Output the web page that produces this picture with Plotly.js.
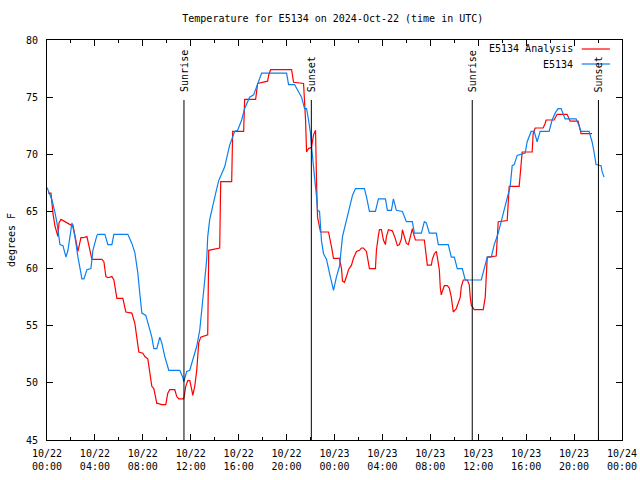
<!DOCTYPE html>
<html>
<head>
<meta charset="utf-8">
<script src="https://cdn.plot.ly/plotly-3.0.1.min.js"></script>
<style>html,body{margin:0;padding:0;background:#fff;}#chart{width:640px;height:480px;}</style>
</head>
<body>
<div id="chart"></div>
<script>
// ---- Data ----
const obsTimes = [
"2024-10-22 00:00","2024-10-22 00:25","2024-10-22 00:40","2024-10-22 00:50","2024-10-22 01:05","2024-10-22 01:20","2024-10-22 01:35","2024-10-22 01:45",
"2024-10-22 02:05","2024-10-22 02:20","2024-10-22 02:35","2024-10-22 02:45","2024-10-22 02:55","2024-10-22 03:05","2024-10-22 03:20","2024-10-22 03:40",
"2024-10-22 03:50","2024-10-22 04:10","2024-10-22 04:15","2024-10-22 04:50","2024-10-22 05:00","2024-10-22 05:05","2024-10-22 05:25","2024-10-22 05:35",
"2024-10-22 06:45","2024-10-22 07:05","2024-10-22 07:20","2024-10-22 07:35","2024-10-22 07:45","2024-10-22 07:55","2024-10-22 08:15","2024-10-22 08:25",
"2024-10-22 08:45","2024-10-22 08:55","2024-10-22 09:10","2024-10-22 09:25","2024-10-22 09:35","2024-10-22 09:50","2024-10-22 10:10","2024-10-22 11:05",
"2024-10-22 11:20","2024-10-22 11:25","2024-10-22 11:40","2024-10-22 11:55","2024-10-22 12:10","2024-10-22 12:30","2024-10-22 12:45","2024-10-22 13:00",
"2024-10-22 13:10","2024-10-22 13:20","2024-10-22 13:25","2024-10-22 13:35","2024-10-22 13:45","2024-10-22 13:50","2024-10-22 14:05","2024-10-22 14:20",
"2024-10-22 14:50","2024-10-22 15:15","2024-10-22 15:40","2024-10-22 15:55","2024-10-22 16:15","2024-10-22 16:30","2024-10-22 16:55","2024-10-22 17:15",
"2024-10-22 17:30","2024-10-22 17:45","2024-10-22 17:55","2024-10-22 20:00","2024-10-22 20:10","2024-10-22 20:40","2024-10-22 20:55","2024-10-22 21:15",
"2024-10-22 21:30","2024-10-22 21:40","2024-10-22 21:50","2024-10-22 22:00","2024-10-22 22:05","2024-10-22 22:15","2024-10-22 22:20","2024-10-22 22:30",
"2024-10-22 22:35","2024-10-22 22:45","2024-10-22 22:50","2024-10-22 22:55","2024-10-22 23:05","2024-10-22 23:20","2024-10-22 23:35","2024-10-22 23:55",
"2024-10-23 00:10","2024-10-23 00:25","2024-10-23 00:40","2024-10-23 01:00","2024-10-23 01:15","2024-10-23 01:30","2024-10-23 01:45","2024-10-23 02:30",
"2024-10-23 02:40","2024-10-23 02:55","2024-10-23 03:25","2024-10-23 03:40","2024-10-23 04:15","2024-10-23 04:25","2024-10-23 04:45","2024-10-23 04:55",
"2024-10-23 05:10","2024-10-23 05:40","2024-10-23 06:00","2024-10-23 06:30","2024-10-23 06:40","2024-10-23 07:15","2024-10-23 07:30","2024-10-23 07:40",
"2024-10-23 07:55","2024-10-23 08:30","2024-10-23 08:40","2024-10-23 09:30","2024-10-23 09:45","2024-10-23 10:00","2024-10-23 10:15","2024-10-23 10:40",
"2024-10-23 10:55","2024-10-23 12:15","2024-10-23 12:30","2024-10-23 12:45","2024-10-23 13:05","2024-10-23 13:20","2024-10-23 13:40","2024-10-23 13:55",
"2024-10-23 14:10","2024-10-23 14:25","2024-10-23 14:40","2024-10-23 14:50","2024-10-23 15:00","2024-10-23 15:15","2024-10-23 15:55","2024-10-23 16:05",
"2024-10-23 16:25","2024-10-23 16:40","2024-10-23 16:55","2024-10-23 17:10","2024-10-23 17:55","2024-10-23 18:10","2024-10-23 18:25","2024-10-23 18:40",
"2024-10-23 18:55","2024-10-23 19:15","2024-10-23 20:10","2024-10-23 20:25","2024-10-23 20:35","2024-10-23 21:15","2024-10-23 21:30","2024-10-23 21:40",
"2024-10-23 21:50","2024-10-23 22:15","2024-10-23 22:20","2024-10-23 22:30"
];
const obsTemps = [
67.1,66.0,64.9,64.0,62.1,62.0,61.0,61.6,
64.0,62.8,61.0,59.9,59.1,59.1,59.9,60.0,
61.6,62.9,63.0,63.0,62.5,62.1,62.1,63.0,
63.0,62.2,61.4,59.6,57.8,56.1,55.9,55.2,
54.0,53.0,53.0,54.0,53.5,52.3,51.1,51.1,
50.5,50.1,51.0,51.1,52.0,53.2,54.6,57.0,
59.0,60.8,62.8,64.3,65.1,65.7,66.6,67.7,
68.9,70.8,72.0,72.1,73.0,74.0,75.0,75.2,
75.9,76.5,77.1,77.1,76.1,76.1,75.6,75.0,
74.0,74.0,73.0,71.8,70.7,69.2,68.0,66.3,
65.1,65.0,63.4,62.4,61.3,60.8,59.6,58.1,
59.3,60.2,62.8,64.3,65.4,66.4,67.0,67.0,
66.3,65.0,65.0,66.1,66.1,65.1,65.1,66.1,
65.1,65.0,64.1,64.1,63.1,63.1,64.1,64.0,
63.1,63.1,62.1,62.1,61.0,61.0,60.0,60.0,
59.0,59.0,60.0,61.0,61.0,62.1,63.1,64.1,
65.1,66.1,67.2,69.0,69.1,69.9,70.1,71.1,
72.0,72.0,71.1,72.0,72.0,73.0,73.6,74.0,
74.0,73.1,73.1,72.5,72.0,72.0,71.1,70.2,
69.1,69.0,68.5,68.0
];

const anaTimes = [
"2024-10-22 00:05","2024-10-22 00:20","2024-10-22 00:30","2024-10-22 00:40","2024-10-22 00:55","2024-10-22 01:00","2024-10-22 01:10","2024-10-22 01:20",
"2024-10-22 01:40","2024-10-22 02:00","2024-10-22 02:10","2024-10-22 02:30","2024-10-22 02:35","2024-10-22 02:50","2024-10-22 03:00","2024-10-22 03:20",
"2024-10-22 03:30","2024-10-22 03:45","2024-10-22 04:35","2024-10-22 04:45","2024-10-22 04:55","2024-10-22 05:05","2024-10-22 05:25","2024-10-22 05:35",
"2024-10-22 05:50","2024-10-22 06:20","2024-10-22 06:35","2024-10-22 07:05","2024-10-22 07:20","2024-10-22 07:30","2024-10-22 07:40","2024-10-22 08:00",
"2024-10-22 08:10","2024-10-22 08:25","2024-10-22 08:35","2024-10-22 08:45","2024-10-22 08:55","2024-10-22 09:10","2024-10-22 09:15","2024-10-22 09:35",
"2024-10-22 09:55","2024-10-22 10:05","2024-10-22 10:15","2024-10-22 10:40","2024-10-22 10:50","2024-10-22 11:00","2024-10-22 11:25","2024-10-22 11:35",
"2024-10-22 11:45","2024-10-22 11:55","2024-10-22 12:05","2024-10-22 12:10","2024-10-22 12:20","2024-10-22 12:30","2024-10-22 12:40","2024-10-22 12:50",
"2024-10-22 13:25","2024-10-22 13:30","2024-10-22 14:25","2024-10-22 14:30","2024-10-22 15:25","2024-10-22 15:30","2024-10-22 16:25","2024-10-22 16:30",
"2024-10-22 17:25","2024-10-22 17:35","2024-10-22 18:25","2024-10-22 18:30","2024-10-22 18:40","2024-10-22 20:25","2024-10-22 20:35","2024-10-22 21:25",
"2024-10-22 21:35","2024-10-22 21:40","2024-10-22 21:50","2024-10-22 22:05","2024-10-22 22:15","2024-10-22 22:25","2024-10-22 22:30","2024-10-22 22:35",
"2024-10-22 22:50","2024-10-22 23:30","2024-10-22 23:45","2024-10-22 23:55",
"2024-10-23 00:25","2024-10-23 00:35","2024-10-23 00:40","2024-10-23 00:50","2024-10-23 01:00","2024-10-23 01:10","2024-10-23 01:25","2024-10-23 01:35",
"2024-10-23 01:50","2024-10-23 02:05","2024-10-23 02:15","2024-10-23 02:25","2024-10-23 02:40","2024-10-23 02:45","2024-10-23 02:55","2024-10-23 03:25",
"2024-10-23 03:30","2024-10-23 03:40","2024-10-23 03:45","2024-10-23 03:55","2024-10-23 04:05","2024-10-23 04:15","2024-10-23 04:20","2024-10-23 04:30",
"2024-10-23 04:50","2024-10-23 05:05","2024-10-23 05:15","2024-10-23 05:25","2024-10-23 05:35","2024-10-23 05:40","2024-10-23 05:50","2024-10-23 06:00",
"2024-10-23 06:10","2024-10-23 06:25","2024-10-23 06:30","2024-10-23 06:35","2024-10-23 06:45","2024-10-23 07:30","2024-10-23 07:40","2024-10-23 07:45",
"2024-10-23 08:05","2024-10-23 08:10","2024-10-23 08:20","2024-10-23 08:30","2024-10-23 08:35","2024-10-23 08:45","2024-10-23 08:50","2024-10-23 08:55",
"2024-10-23 09:00","2024-10-23 09:10","2024-10-23 09:25","2024-10-23 09:35","2024-10-23 09:45","2024-10-23 09:50","2024-10-23 09:55","2024-10-23 10:10",
"2024-10-23 10:20","2024-10-23 10:30","2024-10-23 10:35","2024-10-23 10:45","2024-10-23 11:05","2024-10-23 11:15","2024-10-23 11:20","2024-10-23 11:25",
"2024-10-23 11:40","2024-10-23 12:25","2024-10-23 12:35","2024-10-23 12:40","2024-10-23 12:45","2024-10-23 13:30","2024-10-23 13:35","2024-10-23 13:40",
"2024-10-23 14:25","2024-10-23 14:30","2024-10-23 14:35","2024-10-23 15:25","2024-10-23 15:35","2024-10-23 15:40","2024-10-23 16:30","2024-10-23 16:35",
"2024-10-23 16:45","2024-10-23 17:25","2024-10-23 17:35","2024-10-23 17:40","2024-10-23 18:20","2024-10-23 18:35","2024-10-23 19:25","2024-10-23 19:40",
"2024-10-23 20:20","2024-10-23 20:30","2024-10-23 20:35","2024-10-23 21:30"
];
const anaTemps = [
66.6,66.6,64.8,63.7,62.8,64.0,64.3,64.2,
64.0,63.8,63.8,61.9,61.5,62.7,62.7,62.8,
61.9,60.8,60.8,60.6,59.3,59.2,59.3,59.0,
57.4,57.4,56.2,56.1,55.2,53.9,52.7,52.6,
52.3,52.1,50.8,49.7,49.5,48.2,48.2,48.1,
48.1,49.1,49.4,49.4,48.8,48.6,48.6,49.7,
50.2,50.2,49.4,48.9,49.7,51.1,53.5,54.0,
54.2,61.6,61.8,67.6,67.6,72.0,72.0,74.8,
74.8,76.2,76.4,76.9,77.4,77.4,76.3,76.2,
73.0,70.2,70.5,70.6,71.7,72.1,67.6,64.5,
63.2,63.2,61.9,60.9,
60.9,60.0,58.9,58.8,59.3,59.9,60.3,60.9,
61.5,61.6,61.8,61.8,61.5,61.0,60.0,60.0,
61.6,62.9,63.4,63.4,62.5,62.1,62.8,63.4,
63.3,62.6,62.0,62.1,62.6,63.4,62.8,62.2,
62.1,63.1,63.5,63.1,62.5,62.5,60.8,60.3,
60.3,60.8,61.3,61.5,61.0,59.9,58.3,57.7,
58.0,58.5,58.5,58.3,57.5,56.7,56.2,56.5,
57.0,57.5,58.4,59.0,59.0,58.6,57.5,56.8,
56.4,56.4,57.5,59.9,61.0,61.1,62.8,64.1,
64.2,66.0,67.2,67.2,69.2,70.2,70.2,71.8,
72.3,72.3,72.7,73.0,73.0,73.5,73.5,72.9,
72.9,72.3,71.8,71.8
];

const sunLabels = ["Sunrise","Sunset","Sunrise","Sunset"];
const sunTimes = ["2024-10-22 11:26","2024-10-22 22:04","2024-10-23 11:30","2024-10-23 22:02"];

const xTickVals = ["2024-10-22 00:00","2024-10-22 04:00","2024-10-22 08:00","2024-10-22 12:00","2024-10-22 16:00","2024-10-22 20:00","2024-10-23 00:00",
                   "2024-10-23 04:00","2024-10-23 08:00","2024-10-23 12:00","2024-10-23 16:00","2024-10-23 20:00","2024-10-24 00:00"];
const xTickText = ["10/22<br>00:00","10/22<br>04:00","10/22<br>08:00","10/22<br>12:00","10/22<br>16:00","10/22<br>20:00","10/23<br>00:00",
                   "10/23<br>04:00","10/23<br>08:00","10/23<br>12:00","10/23<br>16:00","10/23<br>20:00","10/24<br>00:00"];
const yTickVals = [45,50,55,60,65,70,75,80];

const seriesNames = ["E5134 Analysis","E5134"];
const seriesColors = ["#ff0000","#0a80f0"];

// ---- Chart ----
const FONT = "DejaVu Sans Mono, monospace";

const traces = [
  {x: anaTimes, y: anaTemps, type: "scatter", mode: "lines", name: seriesNames[0],
   line: {color: seriesColors[0], width: 1.2}, showlegend: false},
  {x: obsTimes, y: obsTemps, type: "scatter", mode: "lines", name: seriesNames[1],
   line: {color: seriesColors[1], width: 1.2}, showlegend: false}
];

const shapes = [];
const annotations = [];
sunTimes.forEach((t, i) => {
  shapes.push({type: "line", xref: "x", yref: "paper", x0: t, x1: t, y0: 0, y1: 0.85,
               line: {color: "#000", width: 1}});
  annotations.push({xref: "x", yref: "paper", x: t, y: 0.865, text: sunLabels[i],
                    textangle: -90, showarrow: false, xanchor: "center", yanchor: "bottom",
                    font: {family: FONT, size: 10, color: "#000"}});
});

// manual gnuplot-style key (text right-aligned, sample line to the right)
const keyY = [0.9775, 0.94];
seriesNames.forEach((n, i) => {
  annotations.push({xref: "paper", yref: "paper", x: 0.918, y: keyY[i], text: n,
                    showarrow: false, xanchor: "right", yanchor: "middle",
                    font: {family: FONT, size: 10, color: "#000"}});
  shapes.push({type: "line", xref: "paper", yref: "paper", x0: 0.930, x1: 0.979,
               y0: keyY[i], y1: keyY[i], line: {color: seriesColors[i], width: 1.2}});
});

const layout = {
  width: 640, height: 480,
  margin: {l: 47, r: 18, t: 40, b: 40, pad: 0},
  paper_bgcolor: "#fff", plot_bgcolor: "#fff",
  font: {family: FONT, size: 10, color: "#000"},
  title: {text: "Temperature for E5134 on 2024-Oct-22 (time in UTC)",
          x: 0.52, xref: "container", xanchor: "center",
          y: 0.962, yref: "container", yanchor: "middle",
          font: {family: FONT, size: 10, color: "#000"}},
  xaxis: {type: "date", range: ["2024-10-22 00:00", "2024-10-24 00:00"],
          tickmode: "array", tickvals: xTickVals, ticktext: xTickText,
          ticks: "inside", ticklen: 6, tickcolor: "#000", tickwidth: 1,
          minor: {dtick: 7200000, tick0: "2024-10-22 00:00", ticks: "inside", ticklen: 3, tickcolor: "#000", showgrid: false},
          showline: true, linecolor: "#000", linewidth: 1, mirror: "allticks",
          showgrid: false, zeroline: false, fixedrange: true,
          tickfont: {family: FONT, size: 10, color: "#000"}, ticklabelstandoff: 4},
  yaxis: {range: [45, 80], tickmode: "array", tickvals: yTickVals,
          ticks: "inside", ticklen: 6, tickcolor: "#000", tickwidth: 1,
          showline: true, linecolor: "#000", linewidth: 1, mirror: "allticks",
          showgrid: false, zeroline: false, fixedrange: true,
          tickfont: {family: FONT, size: 10, color: "#000"}, ticklabelstandoff: 6,
          title: {text: "degrees F", standoff: 8, font: {family: FONT, size: 10, color: "#000"}}},
  shapes: shapes,
  annotations: annotations,
  showlegend: false
};

Plotly.newPlot("chart", traces, layout, {displayModeBar: false, staticPlot: true});
</script>
</body>
</html>
